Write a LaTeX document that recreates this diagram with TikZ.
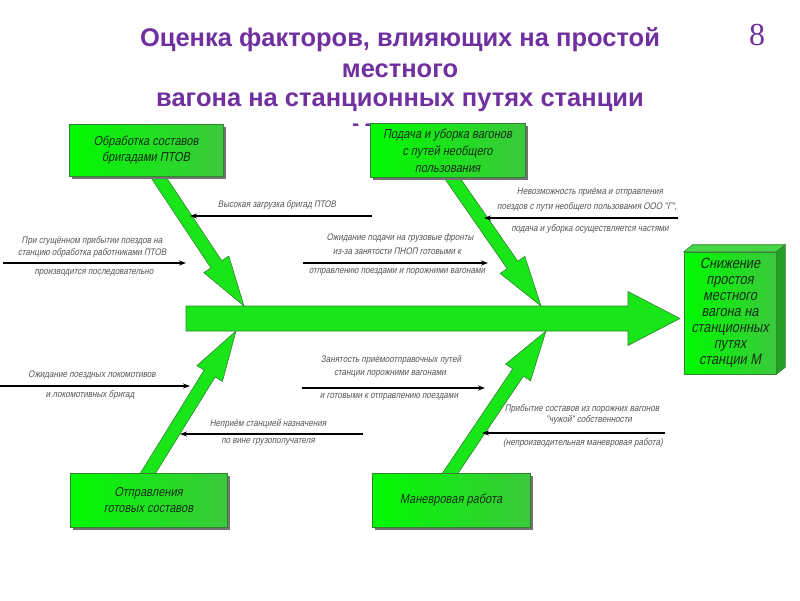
\documentclass[tikz,border=0pt]{standalone}
\usepackage{fontspec}
\setmainfont{Liberation Sans}
\newfontfamily\gost[FakeSlant=0.2,FakeStretch=0.85]{Liberation Sans}
\newfontfamily\titlefont{Liberation Sans}
\newfontfamily\numfont{Liberation Serif}
\usetikzlibrary{calc,shadows,arrows.meta}
\definecolor{titlepurple}{RGB}{112,48,160}
\definecolor{gA}{RGB}{0,250,0}
\definecolor{gB}{RGB}{60,200,60}
\definecolor{gEdge}{RGB}{50,130,50}
\definecolor{gArrow}{RGB}{25,230,25}
\definecolor{lblgray}{RGB}{85,85,85}
\definecolor{boxtxt}{RGB}{20,45,20}
\tikzset{
  causebox/.style={draw=gEdge, line width=0.6pt, left color=gA, right color=gB,
    inner sep=0pt, align=center, text=boxtxt,
    font=\gost\fontsize{13}{16}\selectfont,
    general shadow={fill=black!55, shadow xshift=3pt, shadow yshift=-3pt}},
  lbl/.style={text=lblgray, font=\gost\fontsize{9.5}{11}\selectfont, inner sep=0pt},
  causearrow/.style={-{Stealth[length=7pt,width=5pt]}, line width=1.5pt, black},
  fatstyle/.style={fill=gArrow, draw=gEdge, line width=0.6pt, line join=miter},
  titlestyle/.style={text=titlepurple, font=\titlefont\bfseries\fontsize{25.5}{28}\selectfont, inner sep=0pt}
}
% fat arrow from coordinate #1 to #2: half width #3, head half width #4, head length #5
\newcommand\fatarrow[5]{%
  \path let \p1=(#1), \p2=(#2) in \pgfextra{%
    \pgfmathsetmacro\faang{atan2(\y2-\y1,\x2-\x1)}%
    \pgfmathsetmacro\falen{veclen(\x2-\x1,\y2-\y1)}%
    \global\let\faang\faang \global\let\falen\falen};
  \begin{scope}[shift={(#1)},rotate=\faang]
    \filldraw[fatstyle] (0pt,#3pt) -- (\falen pt-#5pt,#3pt) -- (\falen pt-#5pt,#4pt)
      -- (\falen pt,0pt) -- (\falen pt-#5pt,-#4pt) -- (\falen pt-#5pt,-#3pt) -- (0pt,-#3pt) -- cycle;
  \end{scope}}
\begin{document}
\begin{tikzpicture}[x=1pt,y=-1pt]
\useasboundingbox (0,0) rectangle (800,600);
\fill[white] (0,0) rectangle (800,600);

% title
\node[titlestyle] (t1) at (400,40) {Оценка факторов, влияющих на простой};
\node[titlestyle] (t2) at (400,71) {местного};
\node[titlestyle] (t3) at (400,102) {вагона на станционных путях станции};
\begin{scope}
  \clip (330,105) rectangle (371,125.5);
  \node[titlestyle] (t4) at (362,133) {М};
\end{scope}
\node[text=titlepurple, font=\numfont\fontsize{32}{34}\selectfont, inner sep=0pt] (num) at (757,35) {8};

% coordinates of the fat arrows
\coordinate (d1s) at (155,172); \coordinate (d1e) at (244,306);
\coordinate (d2s) at (448,172); \coordinate (d2e) at (541,306);
\coordinate (d3s) at (145,478); \coordinate (d3e) at (236,331);
\coordinate (d4s) at (447,478); \coordinate (d4e) at (546,331);
\coordinate (ms) at (186,318.5); \coordinate (me) at (680,318.5);

\fatarrow{d1s}{d1e}{6.5}{15}{50}
\fatarrow{d2s}{d2e}{6.5}{15}{50}
\fatarrow{d3s}{d3e}{6.5}{15}{50}
\fatarrow{d4s}{d4e}{6.5}{15}{50}
\fatarrow{ms}{me}{12.5}{27}{52}

% cause boxes
\node[causebox, minimum width=154pt, minimum height=52pt] (b1) at (146,150) {Обработка составов\\бригадами ПТОВ};
\node[causebox, minimum width=155pt, minimum height=54pt, font=\gost\fontsize{13}{17}\selectfont] (b2) at (447.5,150) {\rule{0pt}{12pt}Подача и уборка вагонов\\с путей необщего\\пользования};
\node[causebox, minimum width=157pt, minimum height=54pt] (b3) at (148.5,500) {Отправления\\готовых составов};
\node[causebox, minimum width=158pt, minimum height=54pt] (b4) at (451,500) {Маневровая работа};

% result box (3D)
\node[draw=gEdge, line width=0.6pt, left color=gA, right color=gB, minimum width=92pt, minimum height=122pt,
      inner sep=0pt, align=center, text=boxtxt, font=\gost\fontsize{15}{16}\selectfont] (res) at (730,313)
      {Снижение\\простоя\\местного\\вагона на\\станционных\\путях\\станции М};
\filldraw[draw=gEdge, line width=0.6pt, fill={rgb,255:red,70;green,215;blue,70}]
  (res.north west) -- ++(9,-7) -- ($(res.north east)+(9,-7)$) -- (res.north east) -- cycle;
\filldraw[draw=gEdge, line width=0.6pt, fill={rgb,255:red,35;green,160;blue,35}]
  (res.north east) -- ++(9,-7) -- ($(res.south east)+(9,-7)$) -- (res.south east) -- cycle;

% small cause arrows
\coordinate (a1s) at (372,216); \coordinate (a1e) at (190,216);
\coordinate (a2s) at (678,218); \coordinate (a2e) at (484,218);
\coordinate (a3s) at (3,263);   \coordinate (a3e) at (186,263);
\coordinate (a4s) at (303,263); \coordinate (a4e) at (488,263);
\coordinate (a5s) at (0,386);   \coordinate (a5e) at (190,386);
\coordinate (a6s) at (302,388); \coordinate (a6e) at (485,388);
\coordinate (a7s) at (665,433); \coordinate (a7e) at (482,433);
\coordinate (a8s) at (363,434); \coordinate (a8e) at (180,434);
\foreach \i in {1,...,8} {\draw[causearrow] (a\i s) -- (a\i e);}

% labels
\node[lbl] (l1a) at (277,205) {Высокая загрузка бригад ПТОВ};

\node[lbl] (l2a) at (590,192) {Невозможность приёма и отправления};
\node[lbl] (l2b) at (587,207) {поездов с пути необщего пользования ООО "Г",};
\node[lbl] (l2c) at (590,229) {подача и уборка осуществляется частями};

\node[lbl] (l3a) at (92,241) {При сгущённом прибытии поездов на};
\node[lbl] (l3b) at (92,253) {станцию обработка работниками ПТОВ};
\node[lbl] (l3c) at (94,273) {производится последовательно};

\node[lbl] (l4a) at (400,238) {Ожидание подачи на грузовые фронты};
\node[lbl] (l4b) at (397,251) {из-за занятости ПНОП готовыми к};
\node[lbl] (l4c) at (397,272) {отправлению поездами и порожними вагонами};

\node[lbl] (l5a) at (92,375) {Ожидание поездных локомотивов};
\node[lbl] (l5b) at (90,395) {и локомотивных бригад};

\node[lbl] (l6a) at (391,360) {Занятость приёмоотправочных путей};
\node[lbl] (l6b) at (390,374) {станции порожними вагонами};
\node[lbl] (l6c) at (389,397) {и готовыми к отправлению поездами};

\node[lbl] (l7a) at (582,409) {Прибытие составов из порожних вагонов};
\node[lbl] (l7b) at (589,420) {"чужой" собственности};
\node[lbl] (l7c) at (583,443) {(непроизводительная маневровая работа)};

\node[lbl] (l8a) at (268,424) {Неприём станцией назначения};
\node[lbl] (l8b) at (268,442) {по вине грузополучателя};
\end{tikzpicture}
\end{document}
